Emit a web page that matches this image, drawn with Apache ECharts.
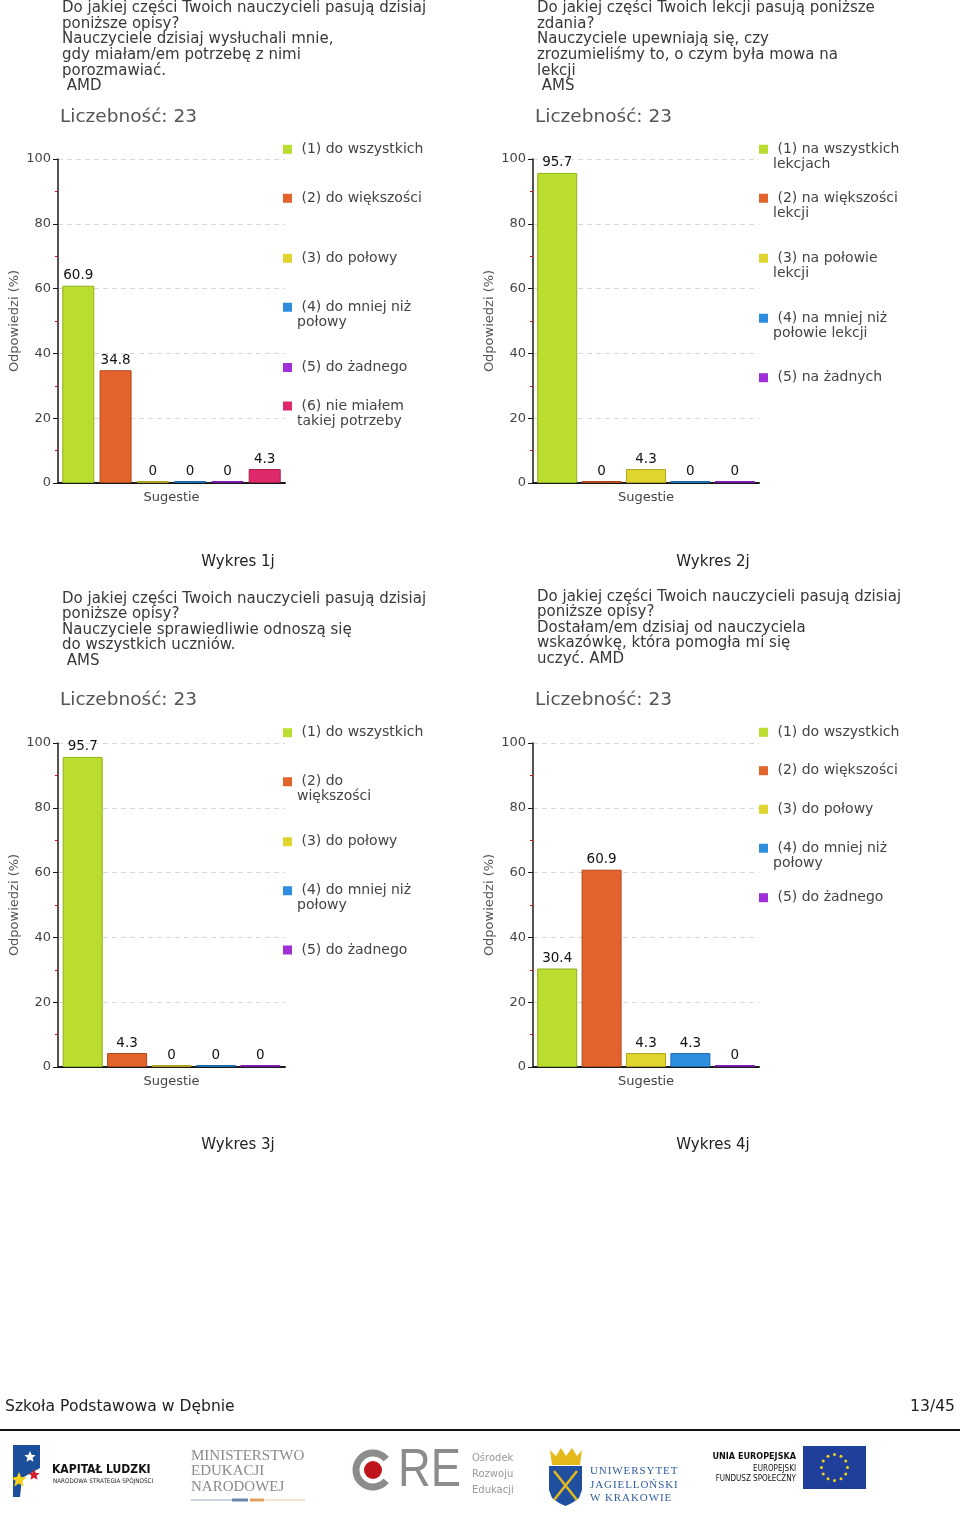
<!DOCTYPE html>
<html><head><meta charset="utf-8">
<script src="https://cdn.jsdelivr.net/npm/echarts@6/dist/echarts.min.js"></script>
<style>html,body{margin:0;padding:0;background:#fff}#c{width:960px;height:1518px}</style>
</head><body><div id="c"></div>
<script>
// ---------------- DATA ----------------
const categories = ['Sugestie'];
const yAxisName = 'Odpowiedzi (%)';
const countLabel = 'Liczebność: ';
const questions = [
  'Do jakiej części Twoich nauczycieli pasują dzisiaj\nponiższe opisy?\nNauczyciele dzisiaj wysłuchali mnie,\ngdy miałam/em potrzebę z nimi\nporozmawiać.\n AMD',
  'Do jakiej części Twoich lekcji pasują poniższe\nzdania?\nNauczyciele upewniają się, czy\nzrozumieliśmy to, o czym była mowa na\nlekcji\n AMS',
  'Do jakiej części Twoich nauczycieli pasują dzisiaj\nponiższe opisy?\nNauczyciele sprawiedliwie odnoszą się\ndo wszystkich uczniów.\n AMS',
  'Do jakiej części Twoich nauczycieli pasują dzisiaj\nponiższe opisy?\nDostałam/em dzisiaj od nauczyciela\nwskazówkę, która pomogła mi się\nuczyć. AMD'
];
const counts = [23, 23, 23, 23];
const captions = ['Wykres 1j', 'Wykres 2j', 'Wykres 3j', 'Wykres 4j'];

const names1 = [' (1) do wszystkich', ' (2) do większości', ' (3) do połowy', ' (4) do mniej niż\npołowy', ' (5) do żadnego', ' (6) nie miałem\ntakiej potrzeby'];
const values1 = [60.9, 34.8, 0, 0, 0, 4.3];
const names2 = [' (1) na wszystkich\nlekcjach', ' (2) na większości\nlekcji', ' (3) na połowie\nlekcji', ' (4) na mniej niż\npołowie lekcji', ' (5) na żadnych'];
const values2 = [95.7, 0, 4.3, 0, 0];
const names3 = [' (1) do wszystkich', ' (2) do\nwiększości', ' (3) do połowy', ' (4) do mniej niż\npołowy', ' (5) do żadnego'];
const values3 = [95.7, 4.3, 0, 0, 0];
const names4 = [' (1) do wszystkich', ' (2) do większości', ' (3) do połowy', ' (4) do mniej niż\npołowy', ' (5) do żadnego'];
const values4 = [30.4, 60.9, 4.3, 4.3, 0];

const footerLeft = 'Szkoła Podstawowa w Dębnie';
const footerRight = '13/45';

// ---------------- STYLE / LAYOUT ----------------
const FONT = '"DejaVu Sans", Verdana, sans-serif';
const fills = ['#badd2f', '#e2632b', '#e0d52f', '#2d8ee0', '#a12fd8', '#e0286c'];
const borders = ['#8fb11a', '#b2481a', '#aea41b', '#1e6aae', '#7a1aa8', '#a81c50'];

const panels = [
  {names: names1, values: values1, gx: 58, gy: 159, gw: 227, qx: 62, qy: 0.5, cx: 60, cy: 107, lx: 283,
   ly: [149.3, 198.3, 258.3, 307.3, 367.5, 406], barW: 32, gap: '16.5%', capX: 238, capY: 562},
  {names: names2, values: values2, gx: 533, gy: 159, gw: 226, qx: 537, qy: 0.5, cx: 535, cy: 107, lx: 759,
   ly: [149.3, 198.3, 258.3, 318.3, 377.7], barW: 40, gap: '11%', capX: 713, capY: 562},
  {names: names3, values: values3, gx: 58, gy: 743, gw: 227, qx: 62, qy: 591, cx: 60, cy: 690, lx: 283,
   ly: [732.7, 781.7, 841.7, 890.7, 950], barW: 40, gap: '11%', capX: 238, capY: 1145},
  {names: names4, values: values4, gx: 533, gy: 743, gw: 226, qx: 537, qy: 589, cx: 535, cy: 690, lx: 759,
   ly: [732.3, 770.7, 809.3, 848.3, 897.7], barW: 40, gap: '11%', capX: 713, capY: 1145}
];

const grid = [], xAxis = [], yAxis = [], series = [], legend = [], title = [];
const graphic = [];

panels.forEach((p, k) => {
  grid.push({left: p.gx, top: p.gy, width: p.gw, height: 324, containLabel: false});
  xAxis.push({
    type: 'category', gridIndex: k, data: categories,
    axisLine: {lineStyle: {color: '#1a1a1a', width: 2}},
    axisTick: {alignWithLabel: true, length: 5, lineStyle: {color: '#1a1a1a', width: 1.5}},
    axisLabel: {color: '#444', fontSize: 13, fontFamily: FONT, margin: 8},
    splitLine: {show: false}
  });
  yAxis.push({
    type: 'value', gridIndex: k, min: 0, max: 100, interval: 20,
    name: yAxisName, nameLocation: 'middle', nameGap: 37,
    nameTextStyle: {color: '#555', fontSize: 13, fontFamily: FONT},
    axisLine: {show: true, lineStyle: {color: '#1a1a1a', width: 1.5}},
    axisTick: {show: true, length: 5, lineStyle: {color: '#1a1a1a'}},
    minorTick: {show: true, splitNumber: 2, length: 3, lineStyle: {color: '#cc1111'}},
    axisLabel: {color: '#444', fontSize: 13, fontFamily: FONT, margin: 7},
    splitLine: {show: true, lineStyle: {color: '#d8d8d8', type: [5, 4]}}
  });
  p.names.forEach((nm, i) => {
    series.push({
      type: 'bar', name: nm, xAxisIndex: k, yAxisIndex: k,
      data: [p.values[i]],
      barWidth: p.barW, barGap: p.gap, barMinHeight: 2,
      itemStyle: {color: fills[i], borderColor: borders[i], borderWidth: 1},
      label: {show: true, position: 'top', distance: 3, color: '#111', fontSize: 13.5, fontFamily: FONT},
      emphasis: {disabled: true}
    });
    const two = nm.indexOf('\n') >= 0;
    legend.push({
      left: p.lx, top: p.ly[i] - 7.5, orient: 'vertical', padding: 0, itemGap: 0,
      itemWidth: 9, itemHeight: two ? 24 : 9, selectedMode: false,
      data: [{name: nm, icon: two ? 'path://M0,0L9,0L9,9L0,9Z M0,23.95L0.05,24L0,24Z' : 'rect'}],
      itemStyle: {borderWidth: 0},
      textStyle: {fontSize: 14, color: '#444', fontFamily: FONT, lineHeight: 15}
    });
  });
  title.push({
    text: questions[k], left: p.qx, top: p.qy, padding: 0,
    textStyle: {fontSize: 15, fontWeight: 'normal', color: '#383838', fontFamily: FONT, lineHeight: 15.6}
  });
  title.push({
    text: countLabel + counts[k], left: p.cx, top: p.cy, padding: 0,
    textStyle: {fontSize: 18.5, fontWeight: 'normal', color: '#555', fontFamily: FONT, lineHeight: 20}
  });
  graphic.push({type: 'text', x: p.capX, y: p.capY,
    style: {text: captions[k], fontSize: 15, fontFamily: FONT, fill: '#222', align: 'center', verticalAlign: 'middle'}});
});

// ---------------- FOOTER ----------------
graphic.push({type: 'text', x: 5, y: 1407, style: {text: footerLeft, fontSize: 15.6, fontFamily: FONT, fill: '#222', verticalAlign: 'middle'}});
graphic.push({type: 'text', x: 955, y: 1407, style: {text: footerRight, fontSize: 15.6, fontFamily: FONT, fill: '#222', align: 'right', verticalAlign: 'middle'}});
graphic.push({type: 'line', shape: {x1: 0, y1: 1430, x2: 960, y2: 1430}, style: {stroke: '#111', lineWidth: 2}});

function star(cx, cy, r) {
  const pts = [];
  for (let j = 0; j < 10; j++) {
    const a = -Math.PI / 2 + j * Math.PI / 5;
    const rr = j % 2 ? r * 0.45 : r;
    pts.push([cx + rr * Math.cos(a), cy + rr * Math.sin(a)]);
  }
  return pts;
}
// Kapitał Ludzki logo
graphic.push({type: 'polygon', shape: {points: [[13, 1445], [40, 1445], [40, 1468], [22, 1478], [20, 1497], [13, 1497]]}, style: {fill: '#1b4f9c'}});
graphic.push({type: 'polygon', shape: {points: star(30, 1457, 6)}, style: {fill: '#fff'}});
graphic.push({type: 'polygon', shape: {points: star(34, 1475, 6)}, style: {fill: '#d21f2b'}});
graphic.push({type: 'polygon', shape: {points: star(19, 1480, 8)}, style: {fill: '#f5d31c'}});
graphic.push({type: 'text', x: 52, y: 1470, style: {text: 'KAPITAŁ LUDZKI', fontSize: 12, fontWeight: 'bold', fontFamily: '"DejaVu Sans Condensed", sans-serif', fill: '#111', verticalAlign: 'middle'}});
graphic.push({type: 'text', x: 53, y: 1481.5, style: {text: 'NARODOWA STRATEGIA SPÓJNOŚCI', fontSize: 6.3, fontFamily: '"DejaVu Sans Condensed", sans-serif', fill: '#222', verticalAlign: 'middle'}});
// MEN logo
['MINISTERSTWO', 'EDUKACJI', 'NARODOWEJ'].forEach((t, j) => {
  graphic.push({type: 'text', x: 191, y: [1456, 1471, 1487][j], style: {text: t, fontSize: 15, fontFamily: '"Liberation Serif", serif', fill: '#8a8a8a', verticalAlign: 'middle'}});
});
graphic.push({type: 'line', shape: {x1: 191, y1: 1500, x2: 232, y2: 1500}, style: {stroke: '#9aa8b8', lineWidth: 1}});
graphic.push({type: 'line', shape: {x1: 232, y1: 1500, x2: 248, y2: 1500}, style: {stroke: '#6b86a8', lineWidth: 3}});
graphic.push({type: 'line', shape: {x1: 250, y1: 1500, x2: 264, y2: 1500}, style: {stroke: '#e0a060', lineWidth: 3}});
graphic.push({type: 'line', shape: {x1: 264, y1: 1500, x2: 305, y2: 1500}, style: {stroke: '#e8c8a0', lineWidth: 1}});
// ORE logo
graphic.push({type: 'arc', shape: {cx: 373, cy: 1470, r: 17, startAngle: 0.22 * Math.PI, endAngle: 1.78 * Math.PI}, style: {stroke: '#8c8c8c', lineWidth: 7, fill: null}});
graphic.push({type: 'circle', shape: {cx: 373, cy: 1470, r: 9}, style: {fill: '#c0141c'}});
graphic.push({type: 'text', x: 398, y: 1471, scaleX: 0.84, style: {text: 'RE', fontSize: 54, fontFamily: '"Liberation Sans", Arial, sans-serif', fill: '#8c8c8c', verticalAlign: 'middle'}});
['Ośrodek', 'Rozwoju', 'Edukacji'].forEach((t, j) => {
  graphic.push({type: 'text', x: 472, y: [1458, 1474, 1490][j], style: {text: t, fontSize: 10, fontFamily: FONT, fill: '#999', verticalAlign: 'middle'}});
});
// UJ logo
graphic.push({type: 'polygon', shape: {points: [[550, 1450], [556, 1456], [561, 1448], [566, 1456], [572, 1448], [577, 1456], [582, 1450], [580, 1465], [552, 1465]]}, style: {fill: '#e5b81c'}});
graphic.push({type: 'polygon', shape: {points: [[549, 1466], [582, 1466], [582, 1490], [579, 1498], [572, 1503], [565.5, 1506], [559, 1503], [552, 1498], [549, 1490]]}, style: {fill: '#1f4f9e'}});
graphic.push({type: 'line', shape: {x1: 554, y1: 1471, x2: 577, y2: 1500}, style: {stroke: '#e5b81c', lineWidth: 2.5}});
graphic.push({type: 'line', shape: {x1: 577, y1: 1471, x2: 554, y2: 1500}, style: {stroke: '#e5b81c', lineWidth: 2.5}});
['UNIWERSYTET', 'JAGIELLOŃSKI', 'W KRAKOWIE'].forEach((t, j) => {
  graphic.push({type: 'text', x: 590, y: [1471, 1485, 1498][j], style: {text: t.split('').join('\u200A'), fontSize: 11, fontFamily: '"Liberation Serif", serif', fill: '#2f5e9e', verticalAlign: 'middle'}});
});
// EU logo
graphic.push({type: 'text', x: 796, y: 1457, style: {text: 'UNIA EUROPEJSKA', fontSize: 9, fontWeight: 'bold', fontFamily: '"DejaVu Sans Condensed", sans-serif', fill: '#111', align: 'right', verticalAlign: 'middle'}});
graphic.push({type: 'text', x: 796, y: 1468.5, style: {text: 'EUROPEJSKI', fontSize: 8, fontFamily: '"DejaVu Sans Condensed", sans-serif', fill: '#111', align: 'right', verticalAlign: 'middle'}});
graphic.push({type: 'text', x: 796, y: 1479, style: {text: 'FUNDUSZ SPOŁECZNY', fontSize: 8, fontFamily: '"DejaVu Sans Condensed", sans-serif', fill: '#111', align: 'right', verticalAlign: 'middle'}});
graphic.push({type: 'rect', shape: {x: 803, y: 1446, width: 63, height: 43}, style: {fill: '#1f3f9a'}});
for (let j = 0; j < 12; j++) {
  const a = j * Math.PI / 6;
  graphic.push({type: 'circle', shape: {cx: 834.5 + 13 * Math.cos(a), cy: 1467.5 + 13 * Math.sin(a), r: 1.5}, style: {fill: '#f5d31c'}});
}

const chart = echarts.init(document.getElementById('c'), null, {renderer: 'canvas'});
chart.setOption({
  animation: false,
  backgroundColor: '#ffffff',
  title, grid, xAxis, yAxis, series, legend, graphic
});
</script>
</body></html>
